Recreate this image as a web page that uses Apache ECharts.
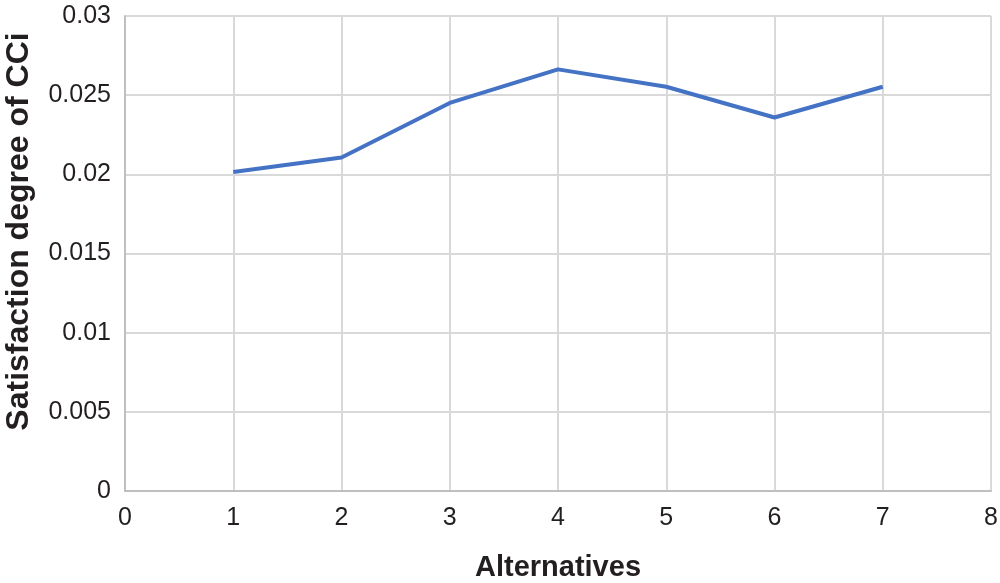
<!DOCTYPE html>
<html>
<head>
<meta charset="utf-8">
<script src="https://cdn.jsdelivr.net/npm/echarts@6/dist/echarts.min.js"></script>
<style>html,body{margin:0;padding:0;background:#fff;}#c{width:1000px;height:583px;}</style>
</head>
<body>
<div id="c"></div>
<script>
var alternatives = [1, 2, 3, 4, 5, 6, 7];
var satisfaction = [0.02015, 0.02106, 0.02451, 0.02663, 0.02553, 0.02359, 0.02553];
var xTitle = 'Alternatives';
var yTitle = 'Satisfaction degree of CCi';

var chart = echarts.init(document.getElementById('c'), null, {renderer: 'canvas'});
chart.setOption({
  animation: false,
  backgroundColor: '#ffffff',
  grid: {left: 125, right: 9, top: 16, bottom: 92, containLabel: false, outerBoundsMode: 'none'},
  xAxis: {
    type: 'value', min: 0, max: 8, interval: 1,
    name: xTitle, nameLocation: 'middle', nameGap: 62,
    nameTextStyle: {fontFamily: 'Liberation Sans', fontWeight: 'bold', fontSize: 29, color: '#231f20'},
    axisLine: {show: true, lineStyle: {color: '#bfbfbf', width: 2}},
    axisTick: {show: false},
    splitLine: {show: true, lineStyle: {color: '#d9d9d9', width: 2}},
    axisLabel: {fontFamily: 'Liberation Sans', fontSize: 25, color: '#231f20', margin: 15}
  },
  yAxis: {
    type: 'value', min: 0, max: 0.03, interval: 0.005,
    name: yTitle, nameLocation: 'middle', nameGap: 90,
    nameTextStyle: {fontFamily: 'Liberation Sans', fontWeight: 'bold', fontSize: 32, color: '#231f20',
      padding: [0, 0, 0, 44]},
    axisLine: {show: true, lineStyle: {color: '#bfbfbf', width: 2}},
    axisTick: {show: false},
    splitLine: {show: true, lineStyle: {color: '#d9d9d9', width: 2}},
    axisLabel: {fontFamily: 'Liberation Sans', fontSize: 25, color: '#231f20', margin: 14,
      formatter: function (v) { return String(+v.toFixed(3)); }}
  },
  series: [{
    type: 'line',
    data: alternatives.map(function (a, i) { return [a, satisfaction[i]]; }),
    showSymbol: false,
    lineStyle: {color: '#4472c4', width: 4, join: 'round'},
    itemStyle: {color: '#4472c4'}
  }]
});
</script>
</body>
</html>
